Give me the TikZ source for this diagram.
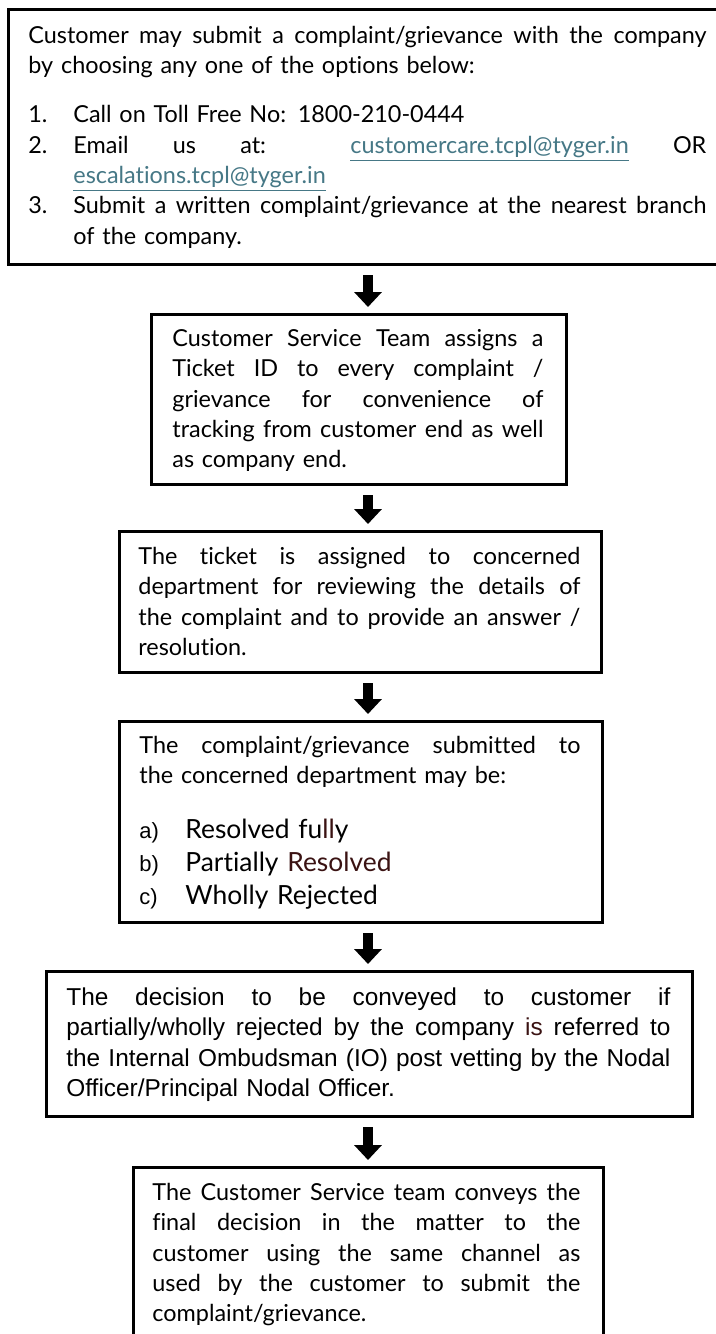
\documentclass[tikz,border=0pt]{standalone}
\usepackage{fontspec}
\setmainfont{Lato}[Ligatures=NoCommon]
\newfontfamily\arialf{Liberation Sans}
\usetikzlibrary{arrows.meta}
\definecolor{lnkc}{HTML}{467886}
\definecolor{dred}{HTML}{3A1212}
\newcommand\ap{\fontsize{11.7pt}{15.2pt}\selectfont}
\newcommand\apbig{\fontsize{13.2pt}{16.5pt}\selectfont}
\newcommand\ar{\arialf\fontsize{12.2pt}{15.2pt}\selectfont}
\newcommand\lbl{\arialf\fontsize{11pt}{13pt}\selectfont}
\newcommand\J[1]{\makebox[\hsize][s]{\spaceskip=0pt\xspaceskip=0pt #1}}
\newcommand\JW[2]{\makebox[#1][s]{\spaceskip=0pt\xspaceskip=0pt #2}}
\newcommand\lnk[1]{\textcolor{lnkc}{\underline{#1}}}
\newcommand\boxnode[5]{\node[flowbox, minimum width=#4*0.5pt, minimum height=#5*0.5pt] (#1) at (#2,#3) {};}
\tikzset{
  flowbox/.style={draw=black, line width=1.5pt, anchor=north west, inner sep=0pt, fill=none},
  txt/.style={anchor=north west, inner sep=0pt, align=left, text width=#1, font=\ap},
  blockarrow/.style={line width=5pt, -{Triangle[width=13.5pt,length=7.5pt]}, shorten <=4.5pt, shorten >=3pt}
}
\begin{document}
\begin{tikzpicture}[x=0.5pt,y=-0.5pt]
\useasboundingbox (0,0) rectangle (716,1334);
\clip (0,0) rectangle (716,1334);
\fill[white] (0,0) rectangle (716,1334);
\coordinate (ax) at (368,0);
% boxes
\boxnode{b1}{7}{8}{716}{255}
\boxnode{b2}{150}{313}{415}{170}
\boxnode{b3}{118}{530}{482}{141}
\boxnode{b4}{118}{720}{483}{201}
\boxnode{b5}{45}{970}{646}{145}
\boxnode{b6}{132}{1166}{470}{190}
% texts
\node[txt=339pt] (t1) at (28,21.7) {\strut\J{Customer may submit a complaint/grievance with the company}\\
by choosing any one of the options below:\\[9.3pt]
\makebox[22.5pt][l]{1.}Call on Toll Free No: 1800-210-0444\\
\makebox[22.5pt][l]{2.}\JW{316.5pt}{Email us at: \lnk{customercare.tcpl@tyger.in} OR}\\
\hspace*{22.5pt}\lnk{escalations.tcpl@tyger.in}\\
\makebox[22.5pt][l]{3.}\JW{316.5pt}{Submit a written complaint/grievance at the nearest branch}\\
\hspace*{22.5pt}of the company.};
\node[txt=185.5pt] (t2) at (172,324.7) {\strut\J{Customer Service Team assigns a}\\
\J{Ticket ID to every complaint /}\\
\J{grievance for convenience of}\\
\J{tracking from customer end as well}\\
as company end.};
\node[txt=221pt] (t3) at (138,542.7) {\strut\J{The ticket is assigned to concerned}\\
\J{department for reviewing the details of}\\
\J{the complaint and to provide an answer /}\\
resolution.};
\node[txt=220.5pt] (t4) at (139,731.7) {\strut\J{The complaint/grievance submitted to}\\
the concerned department may be:};
\node[txt=220.5pt, font=\apbig] (t4l) at (139,815) {\strut\makebox[23pt][l]{\lbl a)}Resolved fu\textcolor{dred}{ll}y\\
\makebox[23pt][l]{\lbl b)}Partially \textcolor{dred}{Resolved}\\
\makebox[23pt][l]{\lbl c)}Wholly Rejected};
\node[txt=302pt, font=\ar] (t5) at (66,983.7) {\strut\J{The decision to be conveyed to customer if}\\
\J{partially/wholly rejected by the company \textcolor{dred}{is} referred to}\\
\J{the Internal Ombudsman (IO) post vetting by the Nodal}\\
Officer/Principal Nodal Officer.};
\node[txt=214pt] (t6) at (152,1178.7) {\strut\J{The Customer Service team conveys the}\\
\J{final decision in the matter to the}\\
\J{customer using the same channel as}\\
\J{used by the customer to submit the}\\
complaint/grievance.};
% arrows
\draw[blockarrow] (b1.south -| ax) -- (b2.north -| ax);
\draw[blockarrow] (b2.south -| ax) -- (b3.north -| ax);
\draw[blockarrow] (b3.south -| ax) -- (b4.north -| ax);
\draw[blockarrow] (b4.south -| ax) -- (b5.north -| ax);
\draw[blockarrow] (b5.south -| ax) -- (b6.north -| ax);
\end{tikzpicture}
\end{document}
